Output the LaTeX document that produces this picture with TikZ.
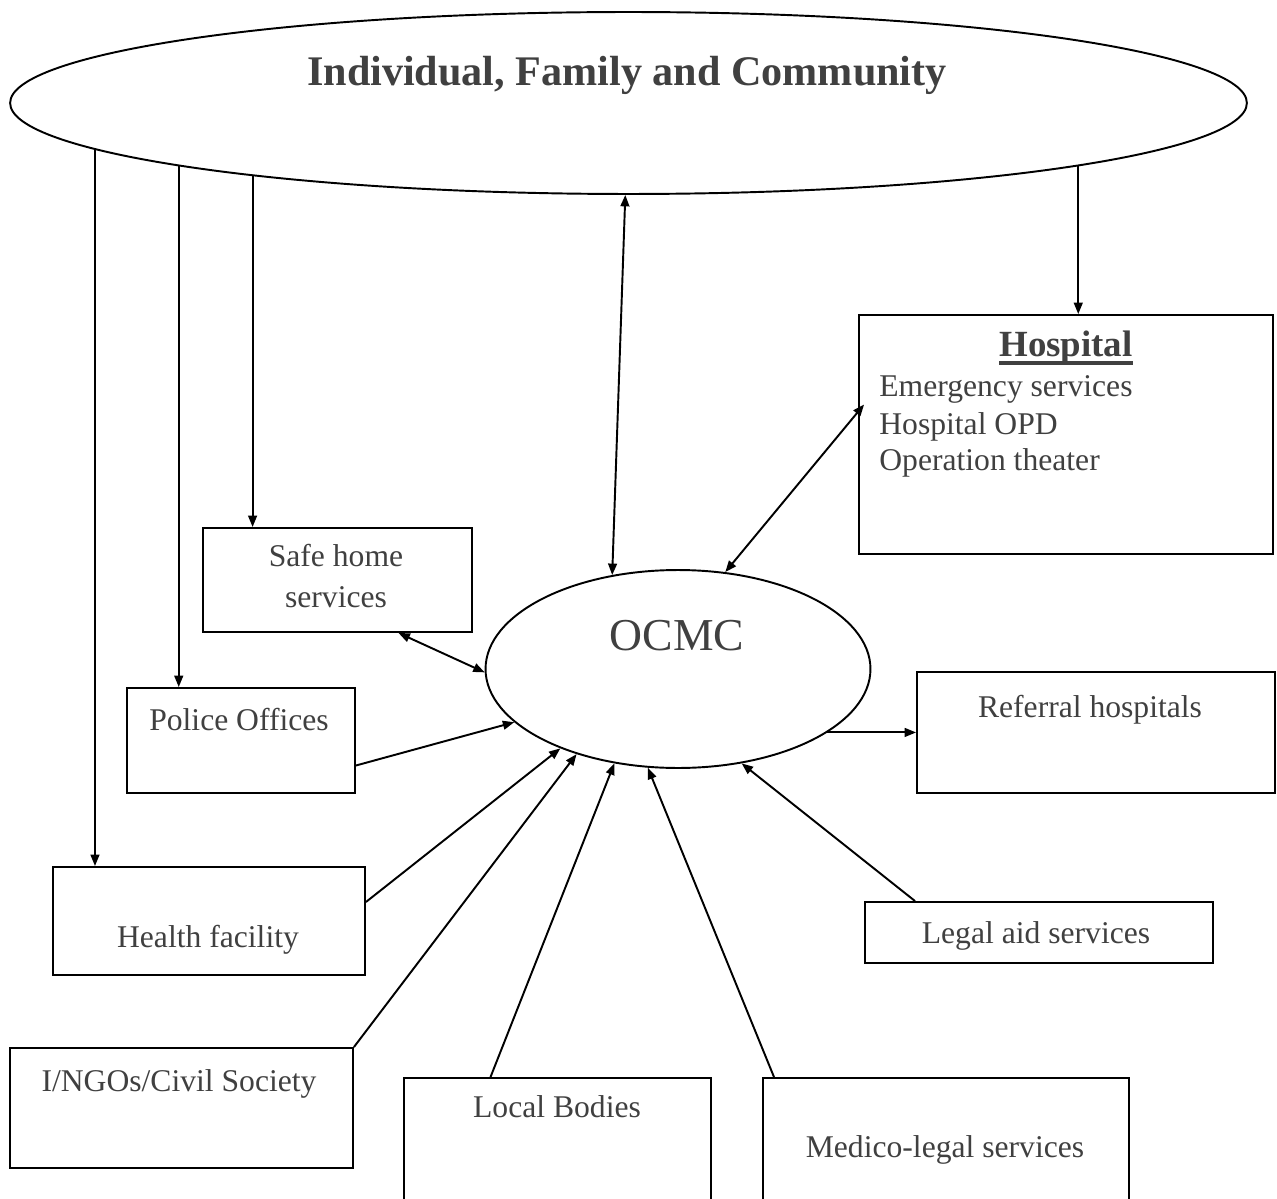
\documentclass[tikz,border=0pt]{standalone}
\usepackage{fontspec}
\setmainfont{Liberation Serif}
\usepackage{xcolor}
\usepackage{tikz}
\usetikzlibrary{shapes.geometric, arrows.meta, calc}

\definecolor{txtgray}{HTML}{404040}

\tikzset{
  box/.style={draw, line width=1.1, rectangle, inner sep=0},
  oval/.style={draw, line width=1.1, ellipse, inner sep=0},
  lbl/.style={text=txtgray, anchor=base, inner sep=0, font=\fontsize{18}{22}\selectfont},
  arr/.style={line width=1.1, -{Triangle[length=6.5pt,width=5pt]}},
  darr/.style={line width=1.1, {Triangle[length=6.5pt,width=5pt]}-{Triangle[length=6.5pt,width=5pt]}}
}

\begin{document}
\begin{tikzpicture}[x=0.02cm, y=-0.02cm]

\clip (0,0) rectangle (1277,1199);

% the two ovals
\node[oval, minimum width=24.74cm, minimum height=3.64cm] (ifc) at (628.5,103) {};
\node[oval, minimum width=7.70cm, minimum height=3.96cm] (ocmc) at (678,669) {};

\node[lbl, font=\bfseries\fontsize{24}{28}\selectfont] (ifctext) at (627,86) {Individual, Family and Community};
\node[lbl, font=\fontsize{26}{30}\selectfont] (ocmctext) at (677,650) {OCMC};

% boxes
\node[box, minimum width=8.28cm, minimum height=4.78cm] (hosp) at (1066,434.5) {};
\node[box, minimum width=5.38cm, minimum height=2.08cm] (safe) at (337.5,580) {};
\node[box, minimum width=4.56cm, minimum height=2.10cm] (police) at (241,740.5) {};
\node[box, minimum width=6.24cm, minimum height=2.16cm] (health) at (209,921) {};
\node[box, minimum width=6.86cm, minimum height=2.40cm] (ngo) at (181.5,1108) {};
\node[box, minimum width=6.14cm, minimum height=2.74cm] (local) at (557.5,1146.5) {};
\node[box, minimum width=7.32cm, minimum height=2.74cm] (medico) at (946,1146.5) {};
\node[box, minimum width=6.96cm, minimum height=1.22cm] (legal) at (1039,932.5) {};
\node[box, minimum width=7.16cm, minimum height=2.42cm] (referral) at (1096,732.5) {};

% box texts
\node[lbl, font=\bfseries\fontsize{21}{25}\selectfont] (hosptitle) at (1066,357) {Hospital};
\draw[txtgray, line width=1.8] ($(hosptitle.base west)+(0,6)$) -- ($(hosptitle.base east)+(0,6)$);
\node[lbl, anchor=base west] (hosp1) at (879,396) {Emergency services};
\node[lbl, anchor=base west] (hosp2) at (879,434) {Hospital OPD};
\node[lbl, anchor=base west] (hosp3) at (879,470) {Operation theater};
\node[lbl] (safe1) at (336,566) {Safe home};
\node[lbl] (safe2) at (336,607) {services};
\node[lbl] (policetext) at (239,730) {Police Offices};
\node[lbl] (healthtext) at (208,947) {Health facility};
\node[lbl] (ngotext) at (179,1091) {I/NGOs/Civil Society};
\node[lbl] (localtext) at (557,1117) {Local Bodies};
\node[lbl] (medicotext) at (945,1157) {Medico-legal services};
\node[lbl] (legaltext) at (1036,943) {Legal aid services};
\node[lbl] (referraltext) at (1090,717) {Referral hospitals};

% from the community
\draw[arr] (ifc.185) -- (ifc.185 |- health.north);
\draw[arr] (ifc.188) -- (ifc.188 |- police.north);
\draw[arr] (ifc.191) -- (ifc.191 |- safe.north);
\draw[arr] (ifc.352) -- (ifc.352 |- hosp.north);
\draw[darr] (ifc.268) -- (ocmc.125);

% around OCMC
\draw[darr] (ocmc.64) -- ($(hosp.west)+(6,-30)$);
\draw[darr] ($(safe.south)+(61,0)$) -- (ocmc.181);
\draw[arr] ($(police.east)+(0,25)$) -- (ocmc.198);
\draw[arr] ($(health.east)+(0,-19)$) -- (ocmc.214);
\draw[arr] (ngo.north east) -- (ocmc.220);
\draw[arr] ($(local.north)+(-67,0)$) -- (ocmc.236);
\draw[arr] ($(medico.north)+(-172,0)$) -- (ocmc.253);
\draw[arr] ($(legal.north)+(-124,0)$) -- (ocmc.304);
\draw[arr] (ocmc.337) -- (ocmc.337 -| referral.west);

\end{tikzpicture}
\end{document}
